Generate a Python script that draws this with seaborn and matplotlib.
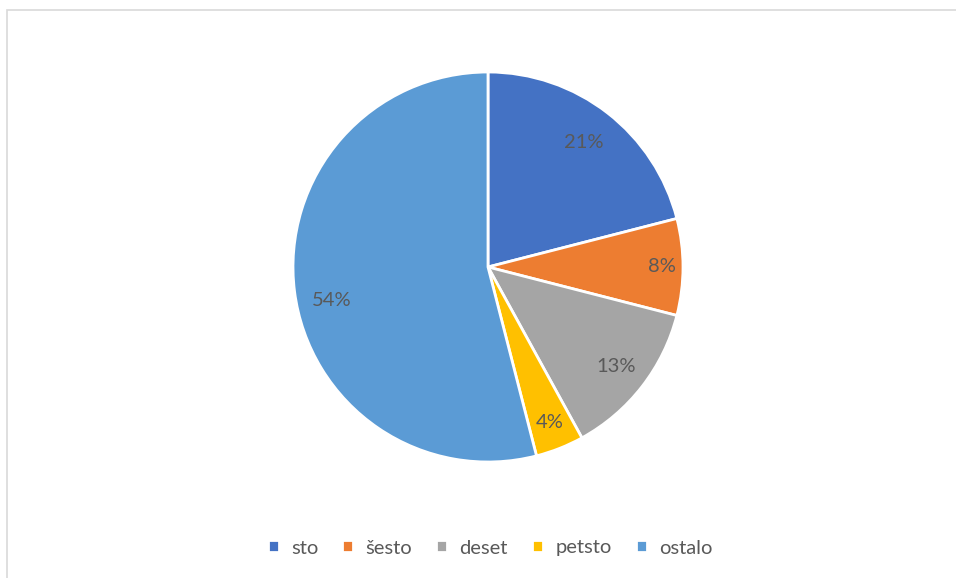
import matplotlib

matplotlib.use("Agg")

import matplotlib.pyplot as plt
import seaborn as sns
from matplotlib.patches import Rectangle

labels = ["sto", "šesto", "deset", "petsto", "ostalo"]
values = [21, 8, 13, 4, 54]
colors = ["#4472C4", "#ED7D31", "#A5A5A5", "#FFC000", "#5B9BD5"]

sns.set_theme(style="white")
plt.rcParams["font.family"] = ["Lato", "DejaVu Sans"]

fig = plt.figure(figsize=(9.56, 5.78), dpi=100)

# chart frame (clipped at right and bottom like the original)
fig.patches.append(Rectangle((7 / 956, -0.1), 1.0, 1 - 9.5 / 578 + 0.1,
                             transform=fig.transFigure, fill=False,
                             edgecolor="#D9D9D9", linewidth=1.2))

ax = fig.add_axes([293 / 956, 116 / 578, 390 / 956, 390 / 578])
wedges, texts, autotexts = ax.pie(
    values, colors=colors, startangle=90, counterclock=False,
    autopct="%.0f%%", pctdistance=0.8,
    wedgeprops=dict(edgecolor="white", linewidth=2),
    textprops=dict(color="#595959", fontsize=14.5),
)

# excel-style "best fit" label placement
dist = [0.805, 0.89, 0.83, 0.86, 0.82]
for t, d in zip(autotexts, dist):
    x, y = t.get_position()
    t.set_position((x * d / 0.8, y * d / 0.8))
autotexts[4].set_position((-0.80, -0.17))

ax.set_xlim(-1.0, 1.0)
ax.set_ylim(-1.0, 1.0)
ax.set_aspect("equal")

fig.legend(wedges, labels, loc="center", bbox_to_anchor=(490 / 956, 1 - 548 / 578),
           ncol=5, frameon=False, fontsize=14.5, labelcolor="#595959",
           handlelength=0.55, handleheight=0.55, handletextpad=0.6, columnspacing=1.2)

fig.savefig("out.png", dpi=100)
plt.close(fig)
